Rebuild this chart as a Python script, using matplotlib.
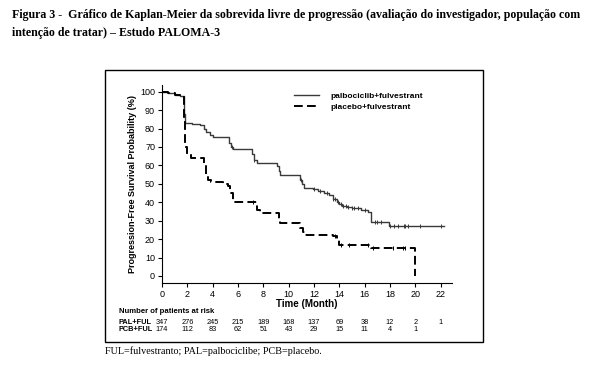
import numpy as np
import matplotlib
matplotlib.use("Agg")
import matplotlib.pyplot as plt
from matplotlib.patches import Rectangle

# Curva palbociclib + fulvestrant (escalones, lectura aproximada)
pal_t = [0, 0.5, 1.0, 1.4, 1.7, 1.75, 1.85, 2.4, 3.0, 3.3, 3.5, 3.8, 4.0, 5.3, 5.45, 5.6,
         7.1, 7.3, 7.5, 9.1, 9.25, 9.35, 10.9, 11.05, 11.2, 11.9, 12.3, 12.8, 13.2, 13.5,
         13.8, 14.0, 14.2, 14.6, 15.0, 15.7, 16.3, 16.5, 17.9, 22.3]
pal_s = [100, 99, 98, 97.5, 97, 88, 83, 82.5, 82, 80, 78, 76.5, 75.5, 72, 70, 69,
         66, 63, 61.5, 59.5, 57, 55, 52, 50, 48, 47, 46, 45, 44, 42,
         40.3, 39, 38, 37.5, 37, 35.8, 34.5, 29.5, 27.3, 27.3]
pal_cens = [5.5, 7.3, 11.0, 12.0, 12.5, 13.0, 13.5, 13.7, 13.9, 14.1, 14.3, 14.5, 14.7,
            15.0, 15.2, 15.5, 16.0, 16.8, 17.0, 17.3, 18.0, 18.35, 18.6, 19.1, 19.2,
            19.4, 20.4, 22.0]

# Curva placebo + fulvestrant
pcb_t = [0, 0.5, 1.0, 1.5, 1.75, 1.85, 1.95, 2.3, 3.3, 3.45, 3.6, 3.9, 4.8, 5.2, 5.4, 5.6,
         7.5, 7.7, 9.2, 9.35, 10.9, 11.1, 11.3, 13.5, 13.8, 14.0, 16.4, 16.5, 19.9, 20.0]
pcb_s = [100, 99, 98, 97, 85, 70, 66, 64, 60, 55, 52, 51, 50, 49, 45, 40,
         36, 34, 31, 28.5, 26, 24, 22, 21.5, 20, 17, 17, 15.3, 15.3, 0]
pcb_cens = [7.2, 13.7, 14.1, 14.8, 16.3, 16.7, 18.25, 19.0, 19.2]

# Pacientes en riesgo
risk_t = [0, 2, 4, 6, 8, 10, 12, 14, 16, 18, 20, 22]
pal_risk = [347, 276, 245, 215, 189, 168, 137, 69, 38, 12, 2, 1]
pcb_risk = [174, 112, 83, 62, 51, 43, 29, 15, 11, 4, 1]

xticks = list(range(0, 23, 2))
yticks = list(range(0, 101, 10))


def valor_en(t, s, tc):
    # valor de la curva escalonada en el tiempo tc
    i = np.searchsorted(t, tc, side="right") - 1
    return np.array(s)[i]


fig = plt.figure(figsize=(6, 3.65), dpi=100)
ax = fig.add_axes([162 / 600, 1 - 283 / 365, 290 / 600, 198 / 365])

ax.step(pal_t, pal_s, where="post", color="#3a3a3a", lw=1.0)
ax.step(pcb_t, pcb_s, where="post", color="black", lw=1.4, dashes=(4.5, 2.2))
ax.plot(pal_cens, valor_en(pal_t, pal_s, pal_cens), ls="none", marker="|",
        ms=3.5, mew=0.7, color="#3a3a3a")
ax.plot(pcb_cens, valor_en(pcb_t, pcb_s, pcb_cens), ls="none", marker="|",
        ms=3.5, mew=0.7, color="black")

# leyenda
ax.plot([], [], color="#3a3a3a", lw=1.0, label="palbociclib+fulvestrant")
ax.plot([], [], color="black", lw=1.4, dashes=(4.5, 2.2), label="placebo+fulvestrant")
leg = ax.legend(loc="upper left", bbox_to_anchor=(0.43, 1.0), frameon=False,
                handlelength=3.0, handletextpad=1.3, labelspacing=0.35,
                prop={"family": "Liberation Sans", "weight": "bold", "size": 6.0})

ax.set_xlim(0, 22.9)
ax.set_ylim(-3.8, 103.6)
ax.set_xticks(xticks)
ax.set_yticks(yticks)
ax.spines["top"].set_visible(False)
ax.spines["right"].set_visible(False)
ax.tick_params(direction="out", length=3, width=0.8, labelsize=6.5, pad=2)
for lab in ax.get_xticklabels() + ax.get_yticklabels():
    lab.set_family("Liberation Sans")

ax.set_xlabel("Time (Month)", family="Liberation Sans", weight="bold",
              fontsize=7, labelpad=0)
ax.set_ylabel("Progression-Free Survival Probability (%)", family="Liberation Sans",
              weight="bold", fontsize=6.5, labelpad=2)

# tabla de pacientes en riesgo
tr = ax.get_xaxis_transform()
ax.text(-3.4, -0.145, "Number of patients at risk", transform=tr, ha="left",
        va="center", family="Liberation Sans", weight="bold", fontsize=5.6)
ax.text(-3.4, -0.197, "PAL+FUL", transform=tr, ha="left", va="center",
        family="Liberation Sans", weight="bold", fontsize=5.3)
ax.text(-3.4, -0.234, "PCB+FUL", transform=tr, ha="left", va="center",
        family="Liberation Sans", weight="bold", fontsize=5.3)
for t, n in zip(risk_t, pal_risk):
    ax.text(t, -0.197, str(n), transform=tr, ha="center", va="center",
            family="Liberation Sans", fontsize=5.3)
for t, n in zip(risk_t, pcb_risk):
    ax.text(t, -0.234, str(n), transform=tr, ha="center", va="center",
            family="Liberation Sans", fontsize=5.3)

# marco alrededor del grafico
fig.patches.append(Rectangle((105 / 600, 1 - 342 / 365), 378 / 600, 272 / 365,
                             transform=fig.transFigure, fill=False, lw=1.0,
                             edgecolor="black"))

fig.text(12 / 600, 1 - 15 / 365,
         "Figura 3 -  Gráfico de Kaplan-Meier da sobrevida livre de progressão "
         "(avaliação do investigador, população com",
         family="Liberation Serif", weight="bold", fontsize=8.6, va="center")
fig.text(12 / 600, 1 - 33 / 365, "intenção de tratar) – Estudo PALOMA-3",
         family="Liberation Serif", weight="bold", fontsize=8.6, va="center")
fig.text(105 / 600, 1 - 351 / 365, "FUL=fulvestranto; PAL=palbociclibe; PCB=placebo.",
         family="Liberation Serif", fontsize=7.3, va="center")

fig.savefig("out.png", dpi=100)
